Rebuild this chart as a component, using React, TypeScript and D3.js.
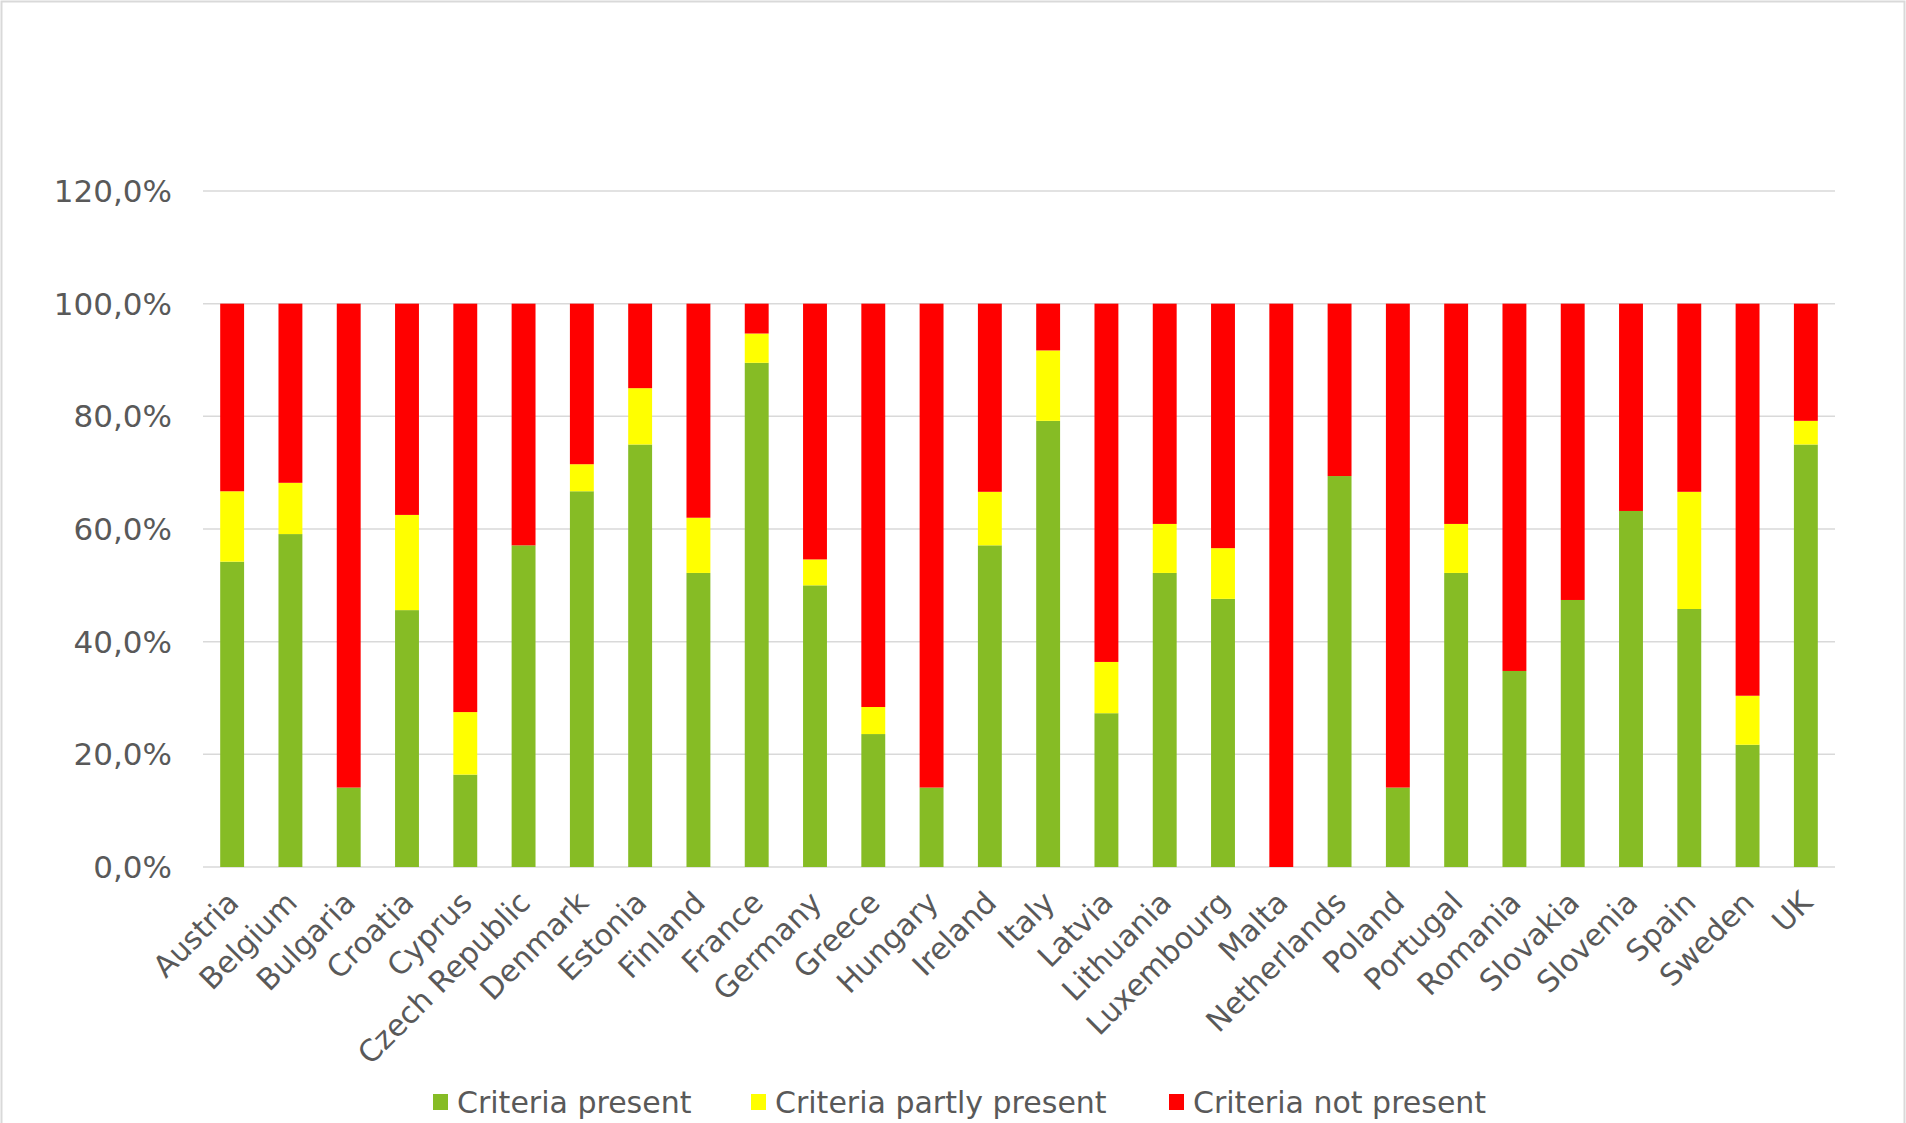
import React from "react";
import * as d3 from "d3";

const countries = [
  "Austria", "Belgium", "Bulgaria", "Croatia", "Cyprus", "Czech Republic", "Denmark",
  "Estonia", "Finland", "France", "Germany", "Greece", "Hungary", "Ireland", "Italy",
  "Latvia", "Lithuania", "Luxembourg", "Malta", "Netherlands", "Poland", "Portugal",
  "Romania", "Slovakia", "Slovenia", "Spain", "Sweden", "UK",
];

const present = [
  54.2, 59.1, 14.1, 45.6, 16.4, 57.1, 66.7, 75.0, 52.2, 89.5, 50.0, 23.6, 14.1, 57.1, 79.2,
  27.3, 52.2, 47.6, 0, 69.4, 14.1, 52.2, 34.8, 47.4, 63.2, 45.8, 21.7, 75.0,
];

const partly = [
  12.5, 9.1, 0, 16.9, 11.1, 0, 4.8, 10.0, 9.8, 5.2, 4.6, 4.8, 0, 9.5, 12.5,
  9.1, 8.7, 9.0, 0, 0, 0, 8.7, 0, 0, 0, 20.8, 8.7, 4.2,
];

const notPresent = present.map((p, i) => Math.max(0, 100 - p - partly[i]));

const yTicks = [0, 20, 40, 60, 80, 100, 120];
const seriesNames = ["Criteria present", "Criteria partly present", "Criteria not present"];
const seriesColors = ["#86bc25", "#ffff00", "#ff0000"];

const W = 1906;
const H = 1123;
const left = 203;
const right = 1835;
const top = 191;
const bottom = 867;
const FONT = "'DejaVu Sans', Verdana, sans-serif";
const TEXT = "#595959";
const FS = 30;

export default function App() {
  const x = d3.scaleBand<string>().domain(countries).range([left, right]).paddingInner(0.59).paddingOuter(0.295);
  const y = d3.scaleLinear().domain([0, 120]).range([bottom, top]);

  const rows = countries.map((c, i) => ({
    country: c,
    present: present[i],
    partly: partly[i],
    notPresent: notPresent[i],
  }));
  const stack = d3.stack<any>().keys(["present", "partly", "notPresent"]);
  const layers = stack(rows);

  const legendItems = [
    { x: 433, label: seriesNames[0], color: seriesColors[0] },
    { x: 751, label: seriesNames[1], color: seriesColors[1] },
    { x: 1169, label: seriesNames[2], color: seriesColors[2] },
  ];

  return (
    <svg
      width={W}
      height={H}
      style={{ position: "absolute", left: 0, top: 0, background: "#fff" }}
      fontFamily={FONT}
    >
      <rect x={1.5} y={1.5} width={W - 3} height={H + 10} fill="#fff" stroke="#d9d9d9" strokeWidth={2} />
      {yTicks.map((t) => (
        <g key={t}>
          <line x1={left} x2={right} y1={y(t)} y2={y(t)} stroke="#d9d9d9" strokeWidth={1.5} />
          <text x={172} y={y(t)} dy="0.36em" textAnchor="end" fontSize={31} fill={TEXT}>
            {d3.format(".1f")(t).replace(".", ",") + "%"}
          </text>
        </g>
      ))}
      {layers.map((layer, li) => (
        <g key={li} fill={seriesColors[li]}>
          {layer.map((d, i) => {
            const h = y(d[0]) - y(d[1]);
            if (h <= 0) return null;
            return (
              <rect
                key={i}
                x={x(countries[i])!}
                y={y(d[1])}
                width={x.bandwidth()}
                height={h}
              />
            );
          })}
        </g>
      ))}
      {countries.map((c) => {
        const cx = x(c)! + x.bandwidth() / 2;
        return (
          <text
            key={c}
            transform={`translate(${cx + 1},${bottom + 30}) rotate(-45)`}
            textAnchor="end"
            fontSize={FS}
            fill={TEXT}
            dy="0.35em"
          >
            {c}
          </text>
        );
      })}
      {legendItems.map((l) => (
        <g key={l.label}>
          <rect x={l.x} y={1094} width={15} height={16} fill={l.color} />
          <text x={l.x + 24} y={1102} dy="0.36em" fontSize={FS} fill={TEXT}>
            {l.label}
          </text>
        </g>
      ))}
    </svg>
  );
}
